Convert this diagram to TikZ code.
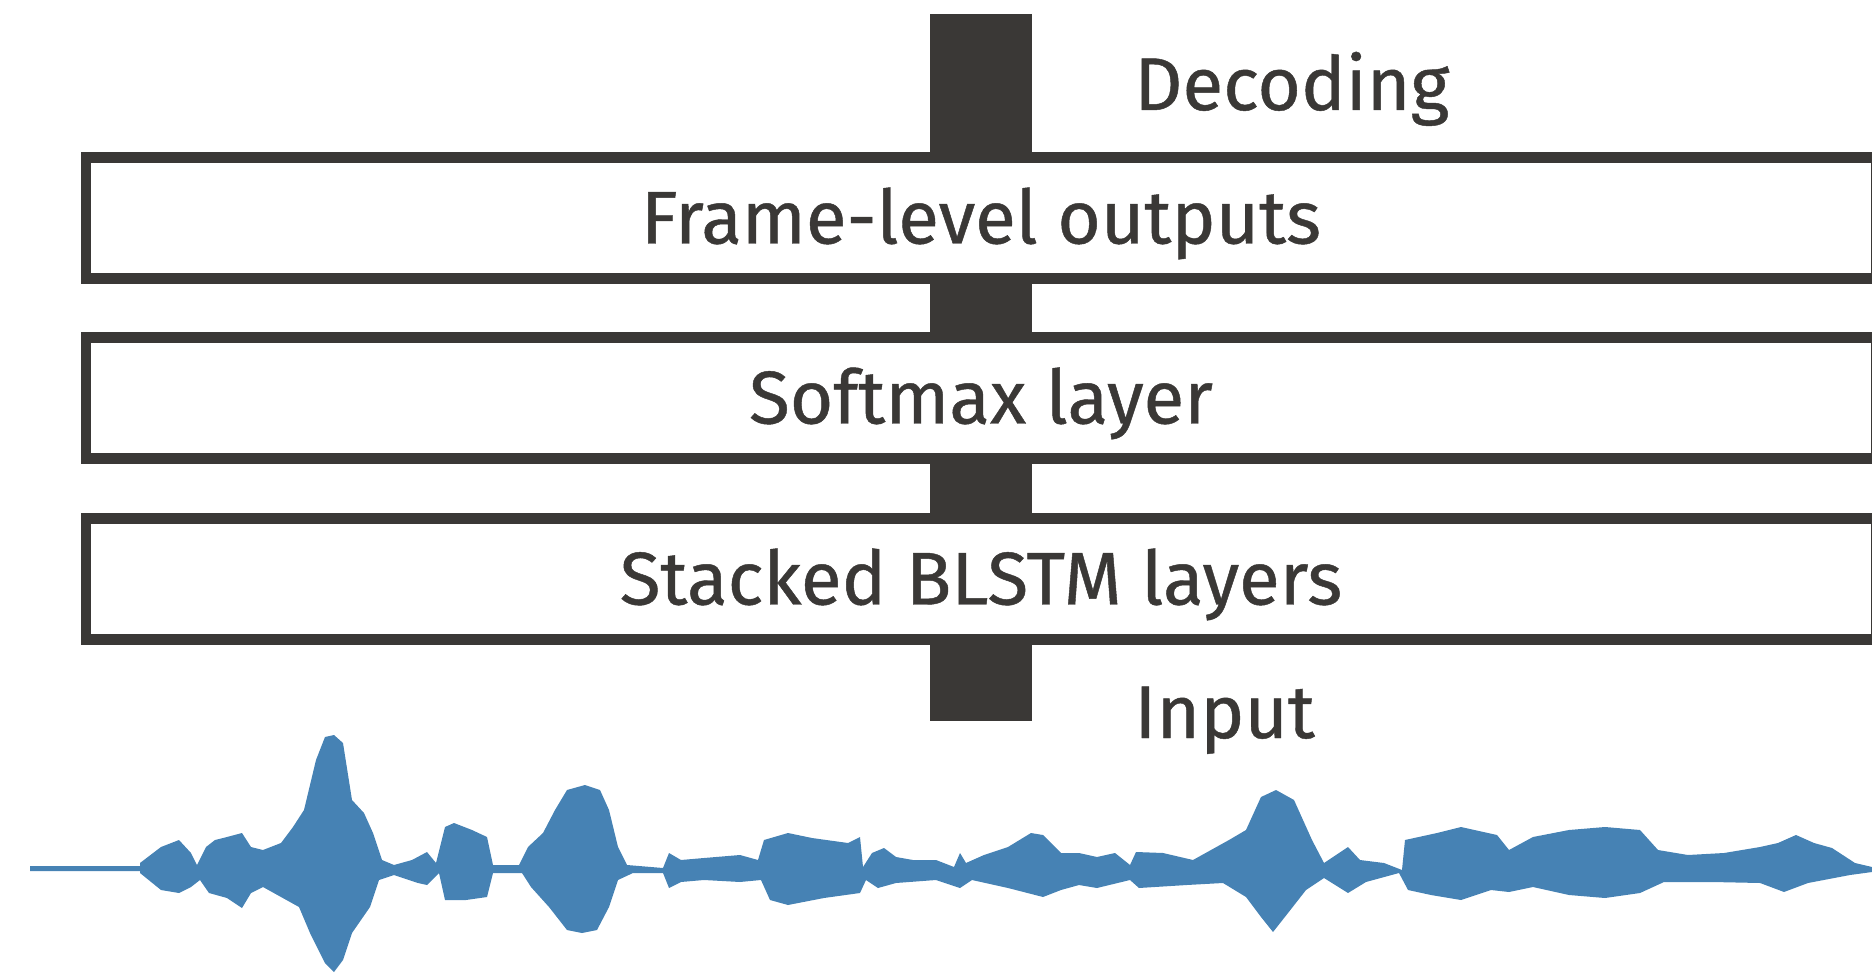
\documentclass[tikz,border=0pt]{standalone}
\usepackage{fontspec}
\setmainfont{Fira Sans}[FakeBold=0.6]
\definecolor{ink}{RGB}{58,56,54}
\definecolor{wave}{RGB}{70,130,180}
\begin{document}
\begin{tikzpicture}[x=0.02cm,y=-0.02cm,
    font=\fontsize{42.5}{50}\selectfont,
    layer/.style={draw=ink, line width=0.21cm, fill=white, text=ink,
      minimum width=35.8cm, minimum height=2.42cm, inner sep=0pt,
      text height=29pt, text depth=0pt},
    tag/.style={anchor=base west, text=ink, inner sep=0pt},
    spine/.style={ink, line width=2.04cm}]
  \useasboundingbox (0,0) rectangle (1872,973);
  \clip (0,0) rectangle (1872,973);

  % vertical data path, drawn first so the layers sit on top of it
  \coordinate (top) at (981,14);
  \coordinate (bottom) at (981,721);
  \draw[spine] (top) -- (bottom);

  % the three layers
  \node[layer] (frame) at (981,218) {Frame-level outputs};
  \node[layer] (softmax) at (981,398) {Softmax layer};
  \node[layer] (blstm) at (981,579) {Stacked BLSTM layers};

  \node[tag] (decoding) at (1134,110) {Decoding};
  \node[tag] (input) at (1134,738) {Input};

  % speech waveform
  \fill[wave] (30,866) -- (140,866) -- (140,863) -- (161,847) -- (179,840) -- (191,853)
    -- (197,865) -- (206,847) -- (215,840) -- (227,837) -- (242,833) -- (251,847)
    -- (263,850) -- (281,843) -- (293,827) -- (304,810) -- (316,760) -- (325,737)
    -- (334,735) -- (343,743) -- (352,800) -- (364,813) -- (373,833) -- (382,860)
    -- (394,865) -- (412,860) -- (427,852) -- (436,863) -- (445,827) -- (454,823)
    -- (472,830) -- (487,837) -- (493,865) -- (519,865) -- (528,847) -- (543,833)
    -- (555,810) -- (567,790) -- (585,785) -- (600,790) -- (609,810) -- (618,847)
    -- (627,865) -- (663,868) -- (669,853) -- (681,860) -- (704,858) -- (740,855)
    -- (758,860) -- (764,840) -- (788,833) -- (812,838) -- (848,843) -- (860,837)
    -- (863,867) -- (872,853) -- (884,848) -- (896,857) -- (913,860) -- (936,860)
    -- (954,867) -- (960,853) -- (966,863) -- (984,855) -- (1008,847) -- (1031,833)
    -- (1043,835) -- (1061,853) -- (1079,853) -- (1097,857) -- (1115,853) -- (1130,865)
    -- (1136,852) -- (1163,853) -- (1193,860) -- (1229,840) -- (1246,830) -- (1261,797)
    -- (1276,790) -- (1294,800) -- (1312,840) -- (1324,863) -- (1348,847) -- (1360,860)
    -- (1384,863) -- (1402,870) -- (1405,840) -- (1437,833) -- (1461,827) -- (1497,835)
    -- (1509,850) -- (1533,837) -- (1569,830) -- (1605,827) -- (1640,830) -- (1658,850)
    -- (1688,855) -- (1724,853) -- (1760,847) -- (1778,843) -- (1796,835) -- (1814,843)
    -- (1832,848) -- (1855,863) -- (1872,867)
    -- (1872,872) -- (1850,875) -- (1808,883) -- (1784,892) -- (1760,883) -- (1712,882)
    -- (1664,882) -- (1640,893) -- (1605,898) -- (1569,895) -- (1533,887) -- (1509,892)
    -- (1491,890) -- (1461,900) -- (1431,895) -- (1408,890) -- (1399,873) -- (1366,882)
    -- (1348,893) -- (1324,878) -- (1306,890) -- (1288,913) -- (1273,932) -- (1261,917)
    -- (1246,897) -- (1223,883) -- (1187,885) -- (1139,888) -- (1130,880) -- (1097,888)
    -- (1079,885) -- (1061,890) -- (1043,897) -- (1008,888) -- (972,880) -- (960,888)
    -- (936,880) -- (896,883) -- (878,888) -- (866,880) -- (860,893) -- (824,898)
    -- (788,905) -- (770,900) -- (761,880) -- (740,882) -- (704,880) -- (681,882)
    -- (669,888) -- (663,873) -- (633,873) -- (618,880) -- (609,907) -- (597,930)
    -- (582,933) -- (567,930) -- (549,907) -- (531,887) -- (522,873) -- (493,873)
    -- (487,897) -- (466,900) -- (445,900) -- (439,873) -- (427,885) -- (418,883)
    -- (394,875) -- (379,880) -- (370,907) -- (352,933) -- (343,960) -- (334,972)
    -- (325,963) -- (310,933) -- (299,907) -- (281,897) -- (263,887) -- (251,893)
    -- (242,908) -- (227,898) -- (209,893) -- (200,880) -- (191,887) -- (179,893)
    -- (161,890) -- (140,873) -- (140,871) -- (30,871) -- cycle;
\end{tikzpicture}
\end{document}
